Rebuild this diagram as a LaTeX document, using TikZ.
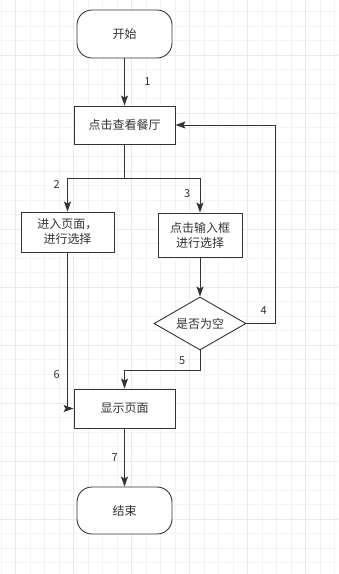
\documentclass[tikz,border=0pt]{standalone}
\usepackage{fontspec}
\newfontfamily\cjk{Noto Sans CJK SC}
\usepackage{xcolor}
\usetikzlibrary{positioning, arrows.meta, shapes.geometric}
\definecolor{linegray}{HTML}{333333}
\definecolor{minorgray}{HTML}{F3F3F3}
\definecolor{majorgray}{HTML}{EAEAEA}

\begin{document}
\begin{tikzpicture}[
    x=1pt, y=-1pt,
    terminal/.style={rectangle, draw=linegray, fill=white, minimum width=95pt, minimum height=48pt, rounded corners=15pt, line width=0.9pt, font=\cjk\fontsize{12}{14}\selectfont, text=linegray},
    block/.style={rectangle, draw=linegray, fill=white, minimum width=101pt, minimum height=38pt, align=center, line width=0.9pt, font=\cjk\fontsize{12}{15}\selectfont, text=linegray},
    decision/.style={diamond, aspect=1.74, draw=linegray, fill=white, minimum width=92pt, minimum height=53pt, inner sep=0pt, line width=0.9pt, font=\cjk\fontsize{12}{14}\selectfont, text=linegray},
    arrow/.style={-{Stealth[length=10pt, width=7pt, inset=2pt]}, line width=0.9pt, linegray},
    label/.style={font=\cjk\fontsize{11}{13}\selectfont, text=linegray},
    minorgrid/.style={minorgray, line width=0.8pt},
    majorgrid/.style={majorgray, line width=0.8pt},
]
\useasboundingbox (0,0) rectangle (338,574);

% === BACKGROUND GRID ===
\foreach \i in {0,...,23} \draw[minorgrid] ({1+14.5*\i},0) -- ++(0,574);
\foreach \i in {0,...,38} \draw[minorgrid] (0,{11.5+14.5*\i}) -- ++(338,0);
\foreach \i in {0,...,5} \draw[majorgrid] ({15.5+58*\i},0) -- ++(0,574);
\foreach \i in {0,...,8} \draw[majorgrid] (0,{55+58*\i}) -- ++(338,0);

% === NODES ===
\node[terminal] (start) at (124.5,34) {开始};
\node[block] (view) at (124.5,125) {点击查看餐厅};

% --- Two branches ---
\node[block, minimum width=93pt, minimum height=40pt] (page) at (67.5,232) {进入页面，\\进行选择};
\node[block, minimum width=84pt, minimum height=44pt] (input) at (200,235) {点击输入框\\进行选择};
\node[decision] (check) at (200,323.5) {是否为空};

% --- Result ---
\node[block, minimum height=39pt] (show) at (124.5,408.5) {显示页面};
\node[terminal, minimum height=47pt] (finish) at (124.5,510.5) {结束};

% helper points
\coordinate (split) at (124.5,178);
\coordinate (loop) at (275,323.5);
\coordinate (merge) at (200,370);

% === ARROWS ===
\draw[arrow] (start) -- (view) node[midway, right=16pt, label] {1};
\draw[arrow] (view.south) -- (split) -| (page.north) node[pos=0.6, left=4pt, label] {2};
\draw[arrow] (split) -| (input.north) node[pos=0.73, left=6pt, label] {3};
\draw[arrow] (input) -- (check);
\draw[arrow] (check.east) -- (loop) node[pos=0.6, above=5pt, label] {4} |- (view.east);
\draw[arrow] (check.south) -- (merge) node[midway, left=11pt, label] {5} -| (show.north);
\draw[arrow] (page.south) |- (show.west) node[pos=0.39, left=4pt, label] {6};
\draw[arrow] (show) -- (finish) node[midway, left=3pt, label] {7};

\end{tikzpicture}
\end{document}
